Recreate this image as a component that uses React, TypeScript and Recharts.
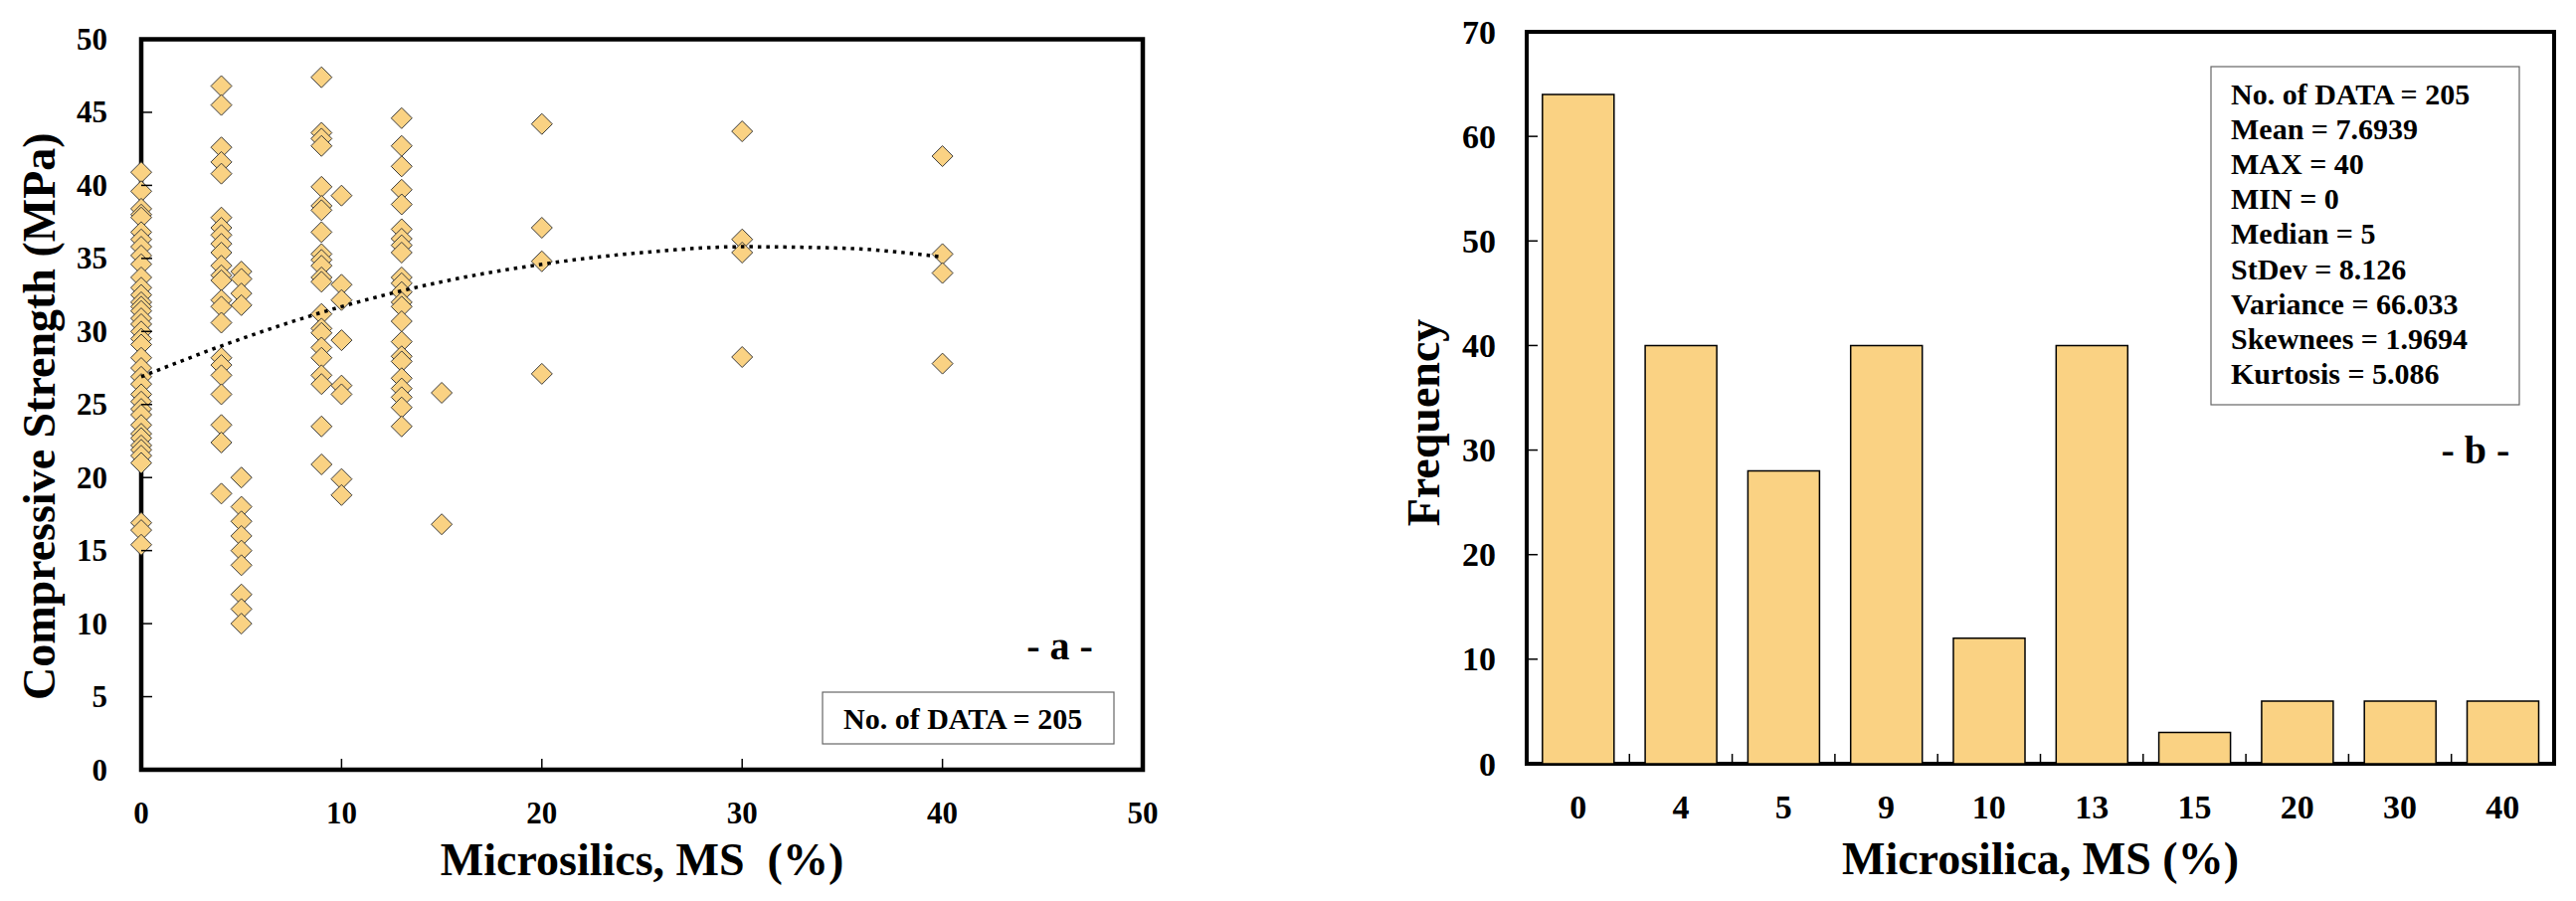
import { ScatterChart, Scatter, BarChart, Bar, XAxis, YAxis, ReferenceArea } from "recharts"

const FONT = "'Liberation Serif', 'Times New Roman', serif"
const FILL = "#FAD283"

// compressive strength (MPa) read for each microsilica level
const msLevels = [0, 4, 5, 9, 10, 13, 15, 20, 30, 40]
const strength0 = [40.9, 39.6, 38.4, 38.0, 37.8, 36.8, 36.3, 35.8, 35.2, 34.6, 33.7, 33.0, 32.5, 32.0, 31.7, 31.4, 30.9, 30.5, 30.0, 29.5, 29.1, 28.2, 27.5, 26.9, 26.4, 25.7, 25.2, 24.7, 24.3, 23.6, 23.0, 22.7, 22.2, 21.9, 21.5, 21.0, 16.9, 16.4, 15.4]
const strength4 = [46.8, 45.5, 42.6, 41.6, 40.8, 37.8, 37.1, 36.6, 36.0, 35.4, 34.5, 33.85, 33.5, 32.15, 31.7, 30.6, 28.2, 27.7, 27.0, 25.7, 23.6, 22.4, 18.9]
const strength5 = [34.1, 33.6, 32.6, 31.8, 20.0, 18.0, 17.0, 16.0, 15.0, 14.0, 12.0, 11.0, 10.0]
const strength9 = [47.4, 43.6, 43.2, 42.7, 39.9, 38.6, 38.3, 36.8, 35.3, 34.9, 34.5, 33.7, 33.4, 31.2, 30.2, 29.9, 28.9, 28.2, 27.0, 26.4, 23.5, 20.9]
const strength10 = [39.3, 33.2, 32.15, 29.4, 26.3, 25.7, 19.9, 18.8]
const strength13 = [44.6, 42.7, 41.3, 39.7, 38.7, 37.0, 36.35, 35.9, 35.4, 33.7, 33.3, 32.7, 32.0, 31.7, 30.7, 29.3, 28.3, 27.95, 26.8, 26.1, 25.5, 24.8, 23.5]
const strength15 = [25.8, 16.8]
const strength20 = [44.2, 37.1, 34.8, 27.1]
const strength30 = [43.7, 36.3, 35.4, 28.25]
const strength40 = [42.0, 35.3, 34.0, 27.8]
const strengthByLevel = [strength0, strength4, strength5, strength9, strength10, strength13, strength15, strength20, strength30, strength40]

// dotted trend line
const trendMs = [0, 5, 10, 15, 20, 25, 30, 35, 40]
const trendStrength = [26.9, 29.5, 31.7, 33.4, 34.6, 35.4, 35.8, 35.7, 35.1]

const xTicksA = [0, 10, 20, 30, 40, 50]
const yTicksA = [0, 5, 10, 15, 20, 25, 30, 35, 40, 45, 50]

// histogram
const msCategories = ["0", "4", "5", "9", "10", "13", "15", "20", "30", "40"]
const frequency = [64, 40, 28, 40, 12, 40, 3, 6, 6, 6]
const yTicksB = [0, 10, 20, 30, 40, 50, 60, 70]

const stats = [
  "No. of DATA = 205",
  "Mean = 7.6939",
  "MAX = 40",
  "MIN = 0",
  "Median = 5",
  "StDev = 8.126",
  "Variance = 66.033",
  "Skewnees = 1.9694",
  "Kurtosis = 5.086",
]

const points = msLevels.flatMap((ms, i) => strengthByLevel[i].map((s) => ({ ms, strength: s })))
const trend = trendMs.map((ms, i) => ({ ms, strength: trendStrength[i] }))
const barData = msCategories.map((ms, i) => ({ ms, count: frequency[i] }))

const textStyle = { fontFamily: FONT, fontWeight: "bold" as const, fill: "#000" }

function Diamond(props: any) {
  const { cx, cy } = props
  const r = 10.5
  return (
    <polygon
      points={`${cx},${cy - r} ${cx + r},${cy} ${cx},${cy + r} ${cx - r},${cy}`}
      fill={FILL}
      stroke="#3a3a3a"
      strokeWidth={1}
    />
  )
}

function AxisTitle({ viewBox, text, dx = 0, dy = 0, vertical = false, size = 46 }: any) {
  const vb = viewBox ?? { x: 0, y: 0, width: 0, height: 0 }
  if (vertical) {
    const cx = vb.x + dx
    const cy = vb.y + vb.height / 2 + dy
    return (
      <text x={cx} y={cy} transform={`rotate(-90, ${cx}, ${cy})`} textAnchor="middle" fontSize={size} style={{ whiteSpace: "pre" }} {...textStyle}>
        {text}
      </text>
    )
  }
  const cx = vb.x + vb.width / 2 + dx
  const cy = vb.y + dy
  return (
    <text x={cx} y={cy} textAnchor="middle" fontSize={size} style={{ whiteSpace: "pre" }} {...textStyle}>
      {text}
    </text>
  )
}

function TickYA({ x, y, payload }: any) {
  return (
    <g>
      <line x1={x} y1={y} x2={x + 11} y2={y} stroke="#000" strokeWidth={1.5} />
      <text x={x - 34} y={y + 10.5} textAnchor="end" fontSize={31} {...textStyle}>{payload.value}</text>
    </g>
  )
}

function TickXA({ x, y, payload }: any) {
  return (
    <g>
      <line x1={x} y1={y} x2={x} y2={y - 11} stroke="#000" strokeWidth={1.5} />
      <text x={x} y={y + 54} textAnchor="middle" fontSize={31} {...textStyle}>{payload.value}</text>
    </g>
  )
}

function TickYB({ x, y, payload }: any) {
  return (
    <g>
      <line x1={x} y1={y} x2={x + 11} y2={y} stroke="#000" strokeWidth={1.5} />
      <text x={x - 31} y={y + 11.5} textAnchor="end" fontSize={34} {...textStyle}>{payload.value}</text>
    </g>
  )
}

function TickXB({ x, y, payload, index }: any) {
  const half = 51.65
  return (
    <g>
      {index < msCategories.length - 1 && (
        <line x1={x + half} y1={y} x2={x + half} y2={y - 10} stroke="#000" strokeWidth={1.5} />
      )}
      <text x={x} y={y + 55} textAnchor="middle" fontSize={34} {...textStyle}>{payload.value}</text>
    </g>
  )
}

function StrengthChart() {
  return (
    <ScatterChart width={1200} height={906} margin={{ top: 39.5, right: 51, bottom: 0, left: 0 }}>
      <ReferenceArea x1={0} x2={50} y1={0} y2={50} fill="none" stroke="#000" strokeWidth={4.5} ifOverflow="visible" />
      <XAxis
        type="number"
        dataKey="ms"
        domain={[0, 50]}
        ticks={xTicksA}
        height={132}
        axisLine={false}
        tickLine={false}
        tickSize={0}
        tickMargin={0}
        tick={(p: any) => <TickXA {...p} />}
        label={<AxisTitle text={"Microsilics, MS\u00a0 (%)"} dy={106} />}
      />
      <YAxis
        type="number"
        dataKey="strength"
        domain={[0, 50]}
        ticks={yTicksA}
        width={142}
        axisLine={false}
        tickLine={false}
        tickSize={0}
        tickMargin={0}
        tick={(p: any) => <TickYA {...p} />}
        label={<AxisTitle text="Compressive Strength (MPa)" vertical dx={55} dy={12} />}
      />
      <Scatter data={points} shape={(p: any) => <Diamond {...p} />} isAnimationActive={false} />
      <Scatter
        data={trend}
        fill="#000"
        shape={() => <g />}
        line={{ stroke: "#000", strokeWidth: 3.5, strokeDasharray: "3.5 5" }}
        lineJointType="monotoneX"
        isAnimationActive={false}
      />
      <text x={1065.5} y={663} textAnchor="middle" fontSize={40} {...textStyle}>- a -</text>
      <rect x={827} y={696} width={293} height={52} fill="#fff" stroke="#666" strokeWidth={1.2} />
      <text x={848} y={733} fontSize={30} {...textStyle}>No. of DATA = 205</text>
    </ScatterChart>
  )
}

function FrequencyChart() {
  return (
    <BarChart width={1210} height={906} data={barData} margin={{ top: 32, right: 22, bottom: 0, left: 0 }} barCategoryGap="15.3%">
      <XAxis
        dataKey="ms"
        height={138}
        axisLine={false}
        tickLine={false}
        tickSize={0}
        tickMargin={0}
        interval={0}
        tick={(p: any) => <TickXB {...p} />}
        label={<AxisTitle text="Microsilica, MS (%)" dy={111} />}
      />
      <YAxis
        type="number"
        domain={[0, 70]}
        ticks={yTicksB}
        width={155}
        axisLine={false}
        tickLine={false}
        tickSize={0}
        tickMargin={0}
        tick={(p: any) => <TickYB {...p} />}
        label={<AxisTitle text="Frequency" vertical dx={67} dy={25} />}
      />
      <Bar dataKey="count" fill={FILL} stroke="#000" strokeWidth={1.5} isAnimationActive={false} />
      <ReferenceArea y1={0} y2={70} fill="none" stroke="#000" strokeWidth={4} ifOverflow="visible" />
      <rect x={843} y={67} width={310} height={340} fill="#fff" stroke="#666" strokeWidth={1.2} />
      {stats.map((s, i) => (
        <text key={s} x={863} y={105 + i * 35.1} fontSize={30} {...textStyle}>{s}</text>
      ))}
      <text x={1109} y={466} textAnchor="middle" fontSize={40} {...textStyle}>- b -</text>
    </BarChart>
  )
}

export default function App() {
  return (
    <div style={{ position: "absolute", left: 0, top: 0, width: 2590, height: 906, background: "#fff" }}>
      <div style={{ position: "absolute", left: 0, top: 0 }}>
        <StrengthChart />
      </div>
      <div style={{ position: "absolute", left: 1380, top: 0 }}>
        <FrequencyChart />
      </div>
    </div>
  )
}
